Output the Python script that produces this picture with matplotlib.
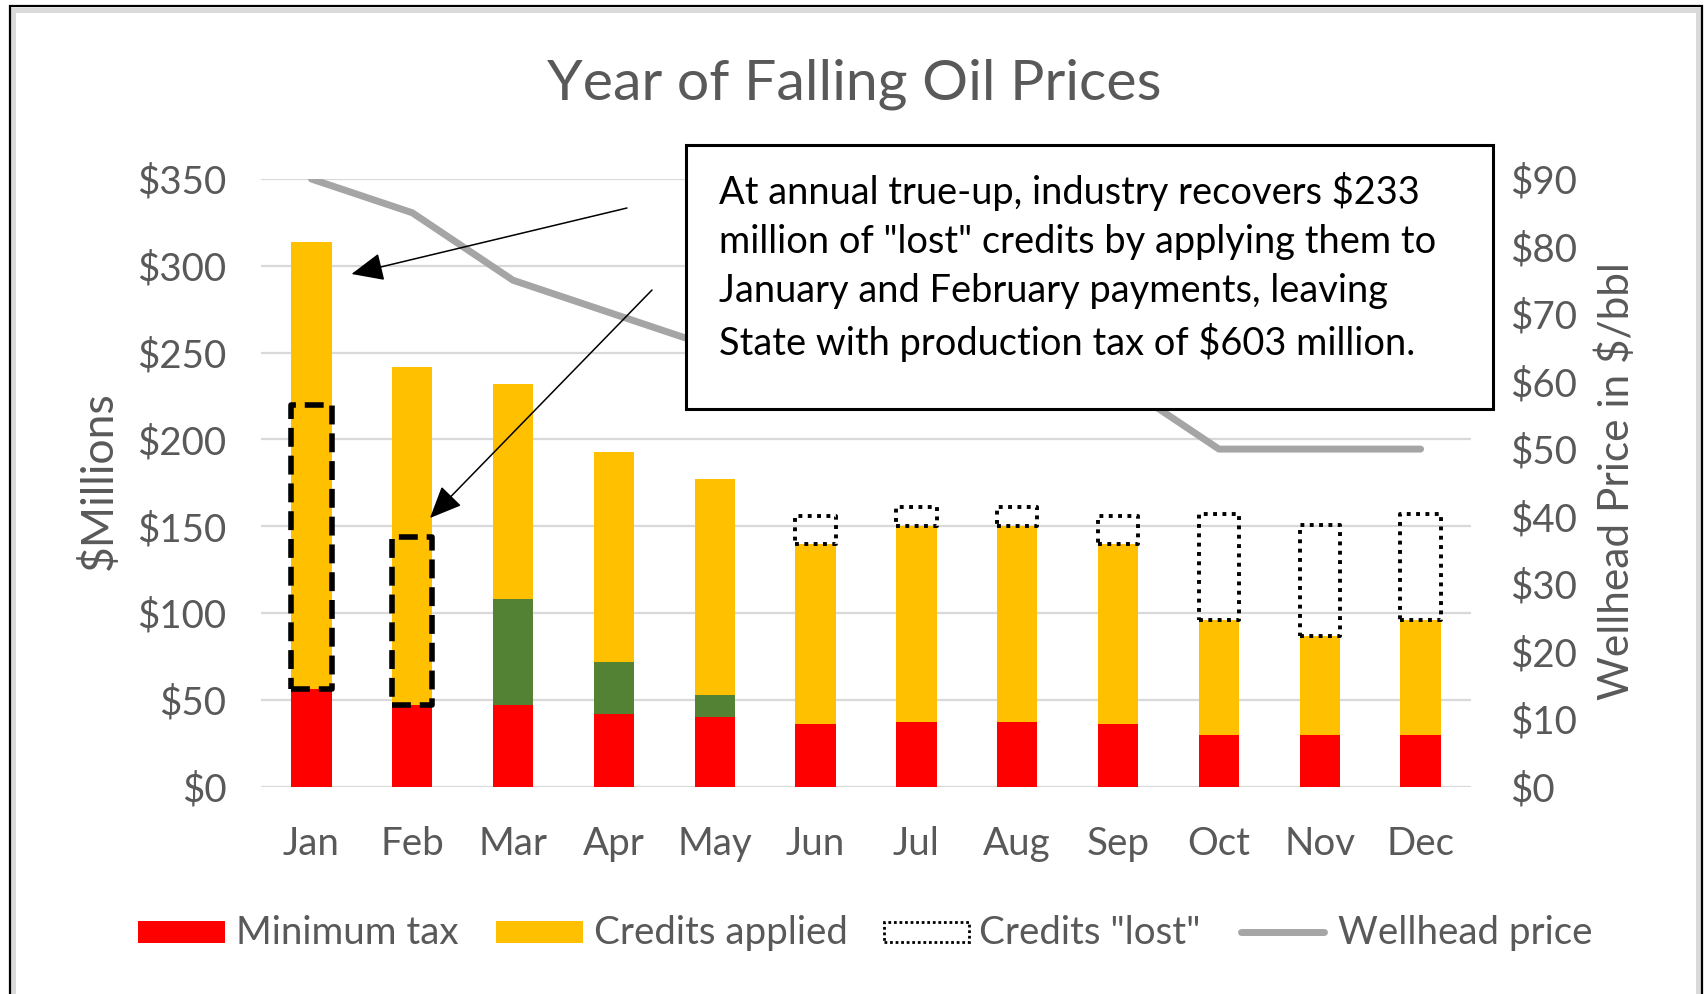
import numpy as np
import matplotlib
matplotlib.use("Agg")
import matplotlib.pyplot as plt
from matplotlib.patches import Rectangle, FancyArrowPatch
from matplotlib.lines import Line2D

plt.rcParams['font.family'] = ['Lato', 'DejaVu Sans']

# ---------------- data ----------------
months = ["Jan", "Feb", "Mar", "Apr", "May", "Jun", "Jul", "Aug", "Sep", "Oct", "Nov", "Dec"]
minimum_tax = [56, 47, 47, 42, 40, 36, 37, 37, 36, 30, 30, 30]
other_credits = [0, 0, 61, 30, 13, 0, 0, 0, 0, 0, 0, 0]          # green segment
credits_applied = [258, 195, 124, 121, 124, 104, 113, 113, 104, 66, 57, 66]
credits_lost = [0, 0, 0, 0, 0, 16, 11, 11, 16, 61, 64, 61]
credits_recovered = [164, 97, 0, 0, 0, 0, 0, 0, 0, 0, 0, 0]        # dashed boxes Jan/Feb
wellhead_price = [90, 85, 75, 70, 65, 63, 62, 61, 60, 50, 50, 50]
left_ticks = [0, 50, 100, 150, 200, 250, 300, 350]
right_ticks = [0, 10, 20, 30, 40, 50, 60, 70, 80, 90]

title = "Year of Falling Oil Prices"
note = ("At annual true-up, industry recovers \\$233\n"
        "million of \"lost\" credits by applying them to\n"
        "January and February payments, leaving\n"
        "State with production tax of \\$603 million.")

RED = "#FF0000"
YELLOW = "#FFC000"
GREEN = "#548235"
GRAY_LINE = "#A5A5A5"
TXT = "#595959"
GRID = "#D9D9D9"
FS = 27.7

W, H = 1706, 994
fig = plt.figure(figsize=(W / 100, H / 100), dpi=100)
fig.patch.set_facecolor("white")


def fx(x):
    return x / W


def fy(y):
    return 1 - y / H


# outer frame
fig.add_artist(Rectangle((fx(13.5), fy(1100)), fx(1698.5 - 13.5), (1100 - 9.5) / H,
                         transform=fig.transFigure, fill=False, ec="#DADADA", lw=3.6, zorder=0.5))
fig.add_artist(Rectangle((fx(10), fy(1100)), fx(1702 - 10), (1100 - 6) / H,
                         transform=fig.transFigure, fill=False, ec="black", lw=1.6, zorder=0.6))

ax = fig.add_axes([fx(261), fy(786.7), fx(1210), (786.7 - 179) / H])
x = np.arange(len(months))
bw = 0.4
mt = np.array(minimum_tax)
oc = np.array(other_credits)
ca = np.array(credits_applied)
cl = np.array(credits_lost)
cr = np.array(credits_recovered)

ax.bar(x, mt, bw, color=RED, zorder=2)
ax.bar(x, oc, bw, bottom=mt, color=GREEN, zorder=2)
ax.bar(x, ca, bw, bottom=mt + oc, color=YELLOW, zorder=2)
top = mt + oc + ca
idx = np.nonzero(cl)[0]
ax.bar(x[idx], cl[idx], bw, bottom=top[idx], fill=False, edgecolor="black", lw=2.8,
       linestyle=(0, (1, 1.4)), joinstyle="round", zorder=3)
idr = np.nonzero(cr)[0]
ax.bar(x[idr], cr[idr], bw, bottom=mt[idr], fill=False, edgecolor="black", lw=4.0,
       linestyle=(0, (3.4, 1.6)), joinstyle="round", zorder=3)

ax.set_xlim(-0.5, len(months) - 0.5)
ax.set_ylim(0, 350)
ax.set_yticks(left_ticks)
ax.set_yticklabels([f"${v}" for v in left_ticks])
ax.set_xticks(x)
ax.set_xticklabels(months)
ax.yaxis.grid(True, color=GRID, lw=1.6, zorder=0)
ax.set_axisbelow(True)
for s in ax.spines.values():
    s.set_visible(False)
ax.tick_params(axis="y", length=0, pad=25, labelsize=FS, labelcolor=TXT)
ax.tick_params(axis="x", length=0, pad=28.5, labelsize=FS, labelcolor=TXT)

ax2 = ax.twinx()
ax2.plot(x, wellhead_price, color=GRAY_LINE, lw=5, solid_capstyle="round",
         solid_joinstyle="round", zorder=4)
ax2.set_ylim(0, 90)
ax2.set_yticks(right_ticks)
ax2.set_yticklabels([f"${v}" for v in right_ticks])
for s in ax2.spines.values():
    s.set_visible(False)
ax2.tick_params(axis="y", length=0, pad=28, labelsize=FS, labelcolor=TXT)

# titles
fig.text(fx(854), fy(84), title, ha="center", va="center", fontsize=41.2, color=TXT)
fig.text(fx(99), fy(481), "$Millions", rotation=90, ha="center", va="center",
         fontsize=32, color=TXT)
fig.text(fx(1616), fy(481), "Wellhead Price in $/bbl", rotation=90, ha="center",
         va="center", fontsize=30.5, color=TXT)

# annotation box
fig.add_artist(Rectangle((fx(686.5), fy(408.5)), fx(806.5), 264 / H, transform=fig.transFigure,
                         fc="white", ec="black", lw=2.2, zorder=5))
fig.text(fx(719), fy(267), note, ha="left", va="center", fontsize=27.4, color="black",
         linespacing=1.44, zorder=6)

# arrows
for (x0, y0), (x1, y1) in [((627, 208), (351.5, 274)), ((652, 290), (430, 518))]:
    fig.add_artist(FancyArrowPatch((fx(x0), fy(y0)), (fx(x1), fy(y1)), transform=fig.transFigure,
                                   arrowstyle="-|>,head_length=0.8,head_width=0.35",
                                   mutation_scale=25, lw=1.1, color="black",
                                   shrinkA=0, shrinkB=0, zorder=7))

# legend
ly = 932
fig.add_artist(Rectangle((fx(138), fy(943)), fx(87), 22 / H, transform=fig.transFigure,
                         fc=RED, ec="none"))
fig.add_artist(Rectangle((fx(496), fy(943)), fx(87), 22 / H, transform=fig.transFigure,
                         fc=YELLOW, ec="none"))
fig.add_artist(Rectangle((fx(884), fy(942)), fx(85), 20 / H, transform=fig.transFigure,
                         fill=False, ec="black", lw=2.0, linestyle=(0, (1, 1))))
fig.add_artist(Line2D([fx(1241), fx(1324)], [fy(ly), fy(ly)], transform=fig.transFigure,
                      color=GRAY_LINE, lw=5, solid_capstyle="round"))
for xt, lab in [(236, "Minimum tax"), (594, "Credits applied"), (979, "Credits \"lost\""),
                (1338, "Wellhead price")]:
    fig.text(fx(xt), fy(ly + 1), lab, ha="left", va="center", fontsize=FS, color=TXT)

fig.savefig("out.png", dpi=100, facecolor="white")
